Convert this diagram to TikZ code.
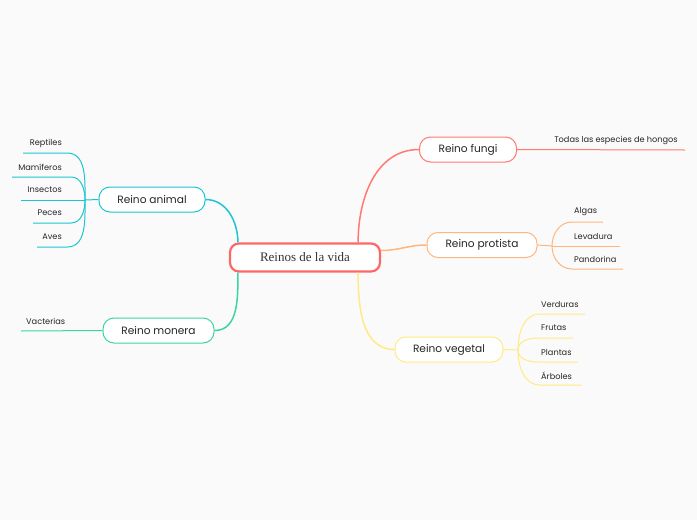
\documentclass[tikz,border=0pt]{standalone}
\usepackage{fontspec}
\setmainfont{Liberation Serif}
\setsansfont{Poppins}
\usetikzlibrary{positioning, calc}
\definecolor{bg_gray}{HTML}{FAFAFA}
\definecolor{root_red}{HTML}{FF6767}
\definecolor{fungi_red}{HTML}{FF7A72}
\definecolor{protista_orange}{HTML}{FFB67E}
\definecolor{vegetal_yellow}{HTML}{FFEA84}
\definecolor{animal_cyan}{HTML}{1CC5D2}
\definecolor{monera_green}{HTML}{3CD5A2}
\tikzset{
  root_box/.style={rectangle, draw=root_red, line width=2.2pt, fill=white, rounded corners=9pt, minimum width=150pt, minimum height=28pt, font=\fontsize{13}{15}\selectfont, text=black!80},
  branch_box/.style={rectangle, line width=1pt, fill=white, rounded corners=11pt, minimum height=25pt, font=\sffamily\fontsize{10.6}{12}\selectfont, text=black!85},
  leaf_text/.style={inner sep=0pt, font=\sffamily\fontsize{8.2}{10}\selectfont, text=black!85},
  branch_line/.style={line width=1.5pt},
  leaf_line/.style={line width=1pt}
}
\begin{document}
\begin{tikzpicture}[x=1pt, y=-1pt]
  \useasboundingbox[fill=bg_gray] (0,0) rectangle (697,520);

  % centre and branches
  \node[root_box] (root) at (305,257.5) {Reinos de la vida};
  \node[branch_box, draw=fungi_red, minimum width=97pt] (fungi) at (468,149.5) {Reino fungi};
  \node[branch_box, draw=protista_orange, minimum width=110pt] (protista) at (482,245) {Reino protista};
  \node[branch_box, draw=vegetal_yellow, minimum width=108pt] (vegetal) at (449,349.5) {Reino vegetal};
  \node[branch_box, draw=animal_cyan, minimum width=106pt] (animal) at (152,199.5) {Reino animal};
  \node[branch_box, draw=monera_green, minimum width=111pt] (monera) at (158.5,330.5) {Reino monera};

  \draw[branch_line, fungi_red] ($(root.north east)+(-23,0)$) to[out=90, in=180] (fungi.west);
  \draw[branch_line, protista_orange] ($(root.east)+(0,-7)$) to[out=0, in=180] (protista.west);
  \draw[branch_line, vegetal_yellow] ($(root.south east)+(-23,0)$) to[out=-90, in=180] (vegetal.west);
  \draw[branch_line, animal_cyan] ($(root.north west)+(9,0)$) to[out=90, in=0] (animal.east);
  \draw[branch_line, monera_green] ($(root.south west)+(9,0)$) to[out=-90, in=0] (monera.east);

  % Reino fungi
  \coordinate (fungi_end) at (685,150);
  \node[leaf_text] (hongos) at (616,140) {Todas las especies de hongos};
  \draw[leaf_line, fungi_red] (fungi.east) -- (fungi_end);

  % Reino protista
  \coordinate (protista_j) at (552,246);
  \node[leaf_text, anchor=west] (algas) at (574,212) {Algas};
  \node[leaf_text, anchor=west] (levadura) at (574,236) {Levadura};
  \node[leaf_text, anchor=west] (pandorina) at (574,259) {Pandorina};
  \draw[leaf_line, protista_orange] (protista.east) -- (protista_j);
  \draw[leaf_line, protista_orange] (protista_j) to[out=90, in=180] (572,222) -- (603,222);
  \draw[leaf_line, protista_orange] (protista_j) -- (620,246);
  \draw[leaf_line, protista_orange] (protista_j) to[out=-90, in=180] (572,269) -- (623,269);

  % Reino vegetal
  \coordinate (vegetal_j) at (518,350);
  \node[leaf_text, anchor=west] (verduras) at (541,304) {Verduras};
  \node[leaf_text, anchor=west] (frutas) at (541,328) {Frutas};
  \node[leaf_text, anchor=west] (plantas) at (541,352) {Plantas};
  \node[leaf_text, anchor=west] (arboles) at (541,376) {Árboles};
  \draw[leaf_line, vegetal_yellow] (vegetal.east) -- (vegetal_j);
  \draw[leaf_line, vegetal_yellow] (vegetal_j) to[out=90, in=180] (540,314) -- (585,314);
  \draw[leaf_line, vegetal_yellow] (vegetal_j) to[out=90, in=180] (538,338) -- (573,338);
  \draw[leaf_line, vegetal_yellow] (vegetal_j) to[out=-90, in=180] (538,362) -- (578,362);
  \draw[leaf_line, vegetal_yellow] (vegetal_j) to[out=-90, in=180] (540,385) -- (582,385);

  % Reino animal
  \coordinate (animal_j) at (85,200);
  \node[leaf_text, anchor=east] (reptiles) at (62,143) {Reptiles};
  \node[leaf_text, anchor=east] (mamiferos) at (62,167) {Mamíferos};
  \node[leaf_text, anchor=east] (insectos) at (62,190) {Insectos};
  \node[leaf_text, anchor=east] (peces) at (62,213) {Peces};
  \node[leaf_text, anchor=east] (aves) at (62,237) {Aves};
  \draw[leaf_line, animal_cyan] (animal.west) -- (animal_j);
  \draw[leaf_line, animal_cyan] (animal_j) to[out=90, in=0] (67,153) -- (23,153);
  \draw[leaf_line, animal_cyan] (animal_j) to[out=90, in=0] (71,177) -- (12,177);
  \draw[leaf_line, animal_cyan] (animal_j) -- (21,200);
  \draw[leaf_line, animal_cyan] (animal_j) to[out=-90, in=0] (71,223) -- (33,223);
  \draw[leaf_line, animal_cyan] (animal_j) to[out=-90, in=0] (67,247) -- (37,247);

  % Reino monera
  \coordinate (monera_end) at (21,331);
  \node[leaf_text, anchor=west] (vacterias) at (26,321) {Vacterias};
  \draw[leaf_line, monera_green] (monera.west) -- (monera_end);
\end{tikzpicture}
\end{document}
